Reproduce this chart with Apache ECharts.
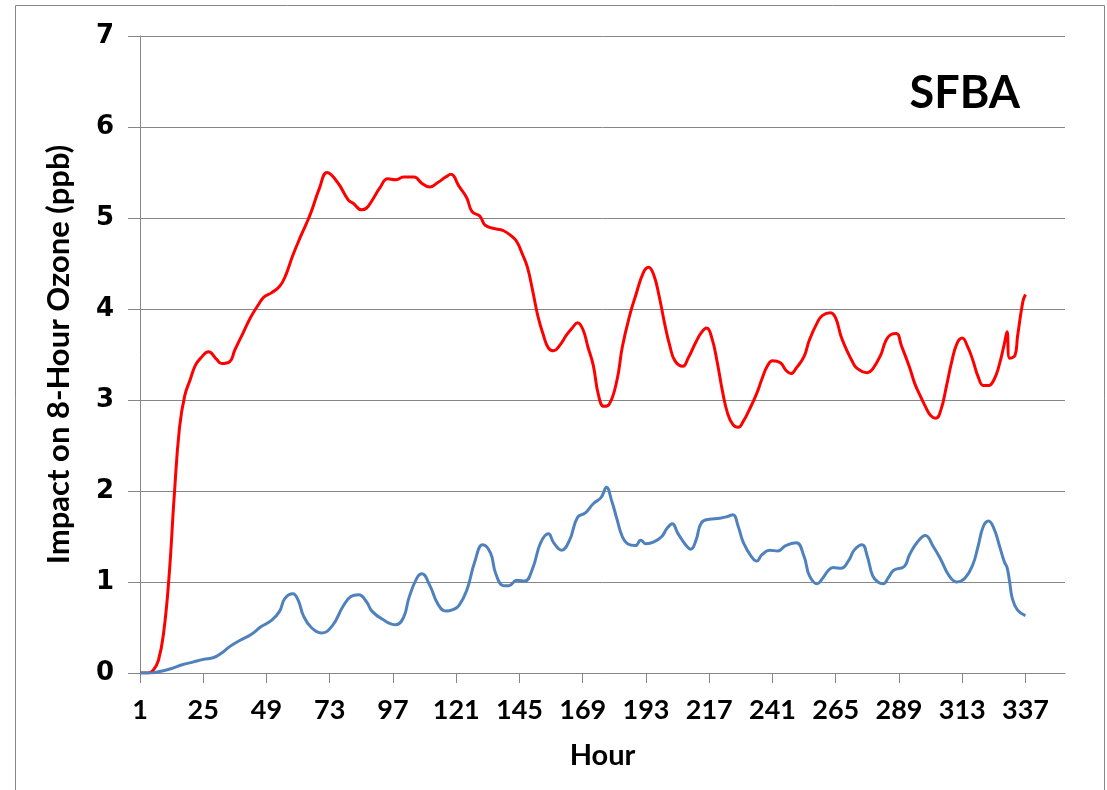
<!DOCTYPE html>
<html>
<head>
<meta charset="utf-8">
<script src="https://cdn.jsdelivr.net/npm/echarts@6/dist/echarts.min.js"></script>
<style>
html,body{margin:0;padding:0;background:#fff;}
#chart{width:1107px;height:790px;}
</style>
</head>
<body>
<div id="chart"></div>
<script>
// Tick labels for the hour axis
const hourTicks = [1, 25, 49, 73, 97, 121, 145, 169, 193, 217, 241, 265, 289, 313, 337];
const yTicks = [0, 1, 2, 3, 4, 5, 6, 7];

// Red series: [hour, ppb]
const redHours = [1,4,6,8,10,12,14,16,18,20,22,24,27,30,32,35,37,40,43,46,48,51,54,56,59,62,64,66,69,72,76,80,82,85,87,89,92,95,98,101,105,108,111,114,117,119,122,125,127,130,132,136,139,142,144,146,148,150,152,154,156,158,160,163,165,167,169,171,173,175,177,179,182,184,187,189,192,194,196,198,200,202,204,207,209,212,214,216,218,220,222,224,226,228,230,232,235,237,239,241,244,246,248,250,253,255,258,260,263,265,267,269,271,273,277,279,282,284,286,288,290,293,295,297,299,301,303,305,307,309,311,313,315,317,319,321,323,325,327,329,330,331,333,334,336,337];
const redValues = [0,0,0.03,0.14,0.45,1.05,1.95,2.7,3.05,3.22,3.38,3.46,3.53,3.45,3.40,3.42,3.55,3.73,3.91,4.05,4.13,4.18,4.25,4.35,4.59,4.80,4.93,5.07,5.32,5.50,5.39,5.20,5.16,5.09,5.11,5.19,5.33,5.43,5.42,5.45,5.45,5.38,5.34,5.39,5.45,5.48,5.35,5.22,5.07,5.02,4.92,4.88,4.86,4.80,4.74,4.61,4.46,4.20,3.92,3.72,3.57,3.54,3.59,3.72,3.79,3.85,3.78,3.58,3.38,3.05,2.93,2.95,3.22,3.58,3.95,4.14,4.40,4.46,4.37,4.14,3.85,3.60,3.43,3.37,3.46,3.64,3.74,3.79,3.68,3.42,3.10,2.85,2.73,2.70,2.77,2.88,3.07,3.23,3.37,3.43,3.41,3.33,3.29,3.35,3.48,3.66,3.85,3.93,3.96,3.90,3.70,3.56,3.44,3.35,3.30,3.34,3.49,3.65,3.72,3.73,3.59,3.36,3.18,3.05,2.93,2.83,2.80,2.90,3.15,3.42,3.62,3.68,3.59,3.44,3.26,3.16,3.16,3.22,3.38,3.62,3.75,3.46,3.49,3.70,4.08,4.16];

// Blue series: [hour, ppb]
const blueHours = [1,5,9,13,17,21,25,29,32,35,39,43,47,51,54,56,59,61,63,66,70,74,78,81,84,87,89,93,98,101,103,106,108,111,114,117,120,122,125,128,131,134,136,139,141,144,147,150,153,156,158,161,164,167,170,173,176,178,180,182,184,186,189,191,193,196,199,201,203,205,208,210,212,214,217,221,224,226,228,230,233,235,237,240,243,246,250,253,255,258,260,262,264,267,270,272,275,277,279,281,283,285,287,291,293,296,299,302,305,308,311,314,317,319,321,323,325,327,329,330,331,332,334,337];
const blueValues = [0,0,0.02,0.05,0.09,0.12,0.15,0.17,0.22,0.29,0.36,0.42,0.51,0.58,0.68,0.82,0.87,0.80,0.63,0.50,0.44,0.52,0.73,0.84,0.86,0.78,0.68,0.59,0.53,0.61,0.82,1.04,1.09,0.96,0.76,0.68,0.70,0.74,0.91,1.22,1.41,1.32,1.09,0.96,0.96,1.02,1.01,1.15,1.43,1.53,1.43,1.35,1.46,1.71,1.76,1.86,1.93,2.04,1.89,1.69,1.50,1.42,1.40,1.46,1.42,1.44,1.50,1.59,1.64,1.54,1.41,1.36,1.46,1.65,1.69,1.70,1.72,1.74,1.61,1.43,1.28,1.23,1.30,1.35,1.34,1.40,1.43,1.28,1.07,0.98,1.04,1.12,1.16,1.15,1.24,1.35,1.41,1.28,1.07,1.00,0.98,1.05,1.13,1.17,1.30,1.44,1.51,1.39,1.24,1.07,1.00,1.04,1.19,1.39,1.61,1.67,1.59,1.41,1.22,1.16,1.00,0.82,0.69,0.63];

const redData = redHours.map((h, i) => [h, redValues[i]]);
const blueData = blueHours.map((h, i) => [h, blueValues[i]]);

const chart = echarts.init(document.getElementById('chart'));
const gray = '#868686';
chart.setOption({
  animation: false,
  backgroundColor: '#fff',
  graphic: [{
    type: 'rect', left: 13, top: 3, silent: true,
    shape: { width: 1089, height: 820 },
    style: { fill: 'none', stroke: gray, lineWidth: 1 }
  }],
  title: {
    text: 'SFBA', right: 82, top: 66,
    textStyle: { fontFamily: 'Lato', fontWeight: 'bold', fontSize: 45, color: '#000' }
  },
  grid: { left: 140, right: 42, top: 36, bottom: 117 },
  xAxis: {
    type: 'value', min: 1, max: 352,
    name: 'Hour', nameLocation: 'middle', nameGap: 68,
    nameTextStyle: { fontFamily: 'Lato', fontWeight: 'bold', fontSize: 29, color: '#000' },
    axisLine: { show: true, lineStyle: { color: gray, width: 1 } },
    axisTick: { show: true, customValues: hourTicks, length: 10, lineStyle: { color: gray } },
    axisLabel: { customValues: hourTicks, margin: 24, fontFamily: 'Lato', fontWeight: 'bold', fontSize: 27, color: '#000' },
    splitLine: { show: false }
  },
  yAxis: {
    type: 'value', min: 0, max: 7, interval: 1,
    name: 'Impact on 8-Hour Ozone (ppb)', nameLocation: 'middle', nameGap: 66, nameRotate: 90,
    nameTextStyle: { fontFamily: 'Lato', fontWeight: 'bold', fontSize: 31, color: '#000' },
    axisLine: { show: true, lineStyle: { color: gray, width: 1 } },
    axisTick: { show: true, length: 12, lineStyle: { color: gray } },
    axisLabel: { margin: 26, fontFamily: 'DejaVu Sans', fontWeight: 'bold', fontSize: 26, color: '#000',
      formatter: v => yTicks.includes(v) ? String(v) : '' },
    splitLine: { show: true, lineStyle: { color: gray, width: 1 } }
  },
  series: [
    { type: 'line', data: redData, smooth: 0.45, showSymbol: false, lineStyle: { color: '#FF0000', width: 3 }, itemStyle: { color: '#FF0000' } },
    { type: 'line', data: blueData, smooth: 0.45, showSymbol: false, lineStyle: { color: '#4F81BD', width: 3 }, itemStyle: { color: '#4F81BD' } }
  ]
});
</script>
</body>
</html>
